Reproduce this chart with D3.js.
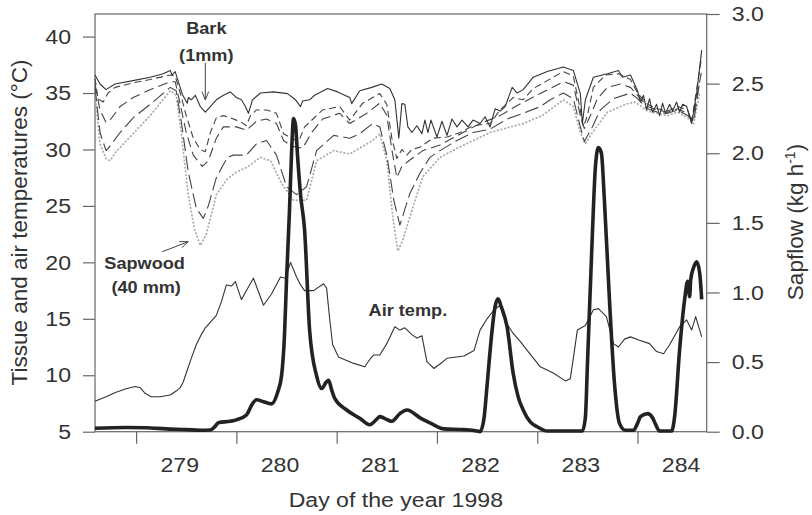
<!DOCTYPE html>
<html>
<head>
<meta charset="utf-8">
<script src="https://cdn.jsdelivr.net/npm/d3@7"></script>
<style>
  html, body { margin: 0; padding: 0; background: #fff; }
  svg { display: block; font-family: "Liberation Sans", Arial, Helvetica, sans-serif; }
</style>
</head>
<body>
<svg id="chart" width="812" height="515"></svg>
<script>
// ---- Data: day of year 1998 vs. temperature (°C) / sap flow (kg h-1) ----
const dayTicks = [279, 280, 281, 282, 283, 284];
const tempTicks = [5, 10, 15, 20, 25, 30, 35, 40];
const flowTicks = [0, 0.5, 1.0, 1.5, 2.0, 2.5, 3.0];

// Bark temperature, 1 mm depth
const bark1mm = [
  [278.59,36.6],[278.64,35.8],[278.70,35.3],[278.79,35.8],[278.97,36.1],[279.14,36.4],[279.27,36.7],
  [279.34,37.0],[279.36,36.6],[279.39,36.9],[279.46,34.9],[279.51,34.1],[279.52,34.6],[279.55,34.4],
  [279.59,34.8],[279.64,33.8],[279.69,33.3],[279.74,33.8],[279.80,34.4],[279.87,34.8],[279.94,35.1],
  [280.00,34.6],[280.05,34.4],[280.09,33.8],[280.12,33.2],[280.16,34.4],[280.24,35.0],[280.37,35.1],
  [280.51,34.95],[280.59,34.4],[280.64,33.8],[280.66,34.3],[280.73,34.4],[280.78,34.8],[280.91,35.4],
  [281.01,35.1],[281.13,34.6],[281.15,34.06],[281.23,35.2],[281.35,35.5],[281.45,35.8],[281.53,35.4],
  [281.58,34.4],[281.62,31.0],[281.65,34.06],[281.68,34.0],[281.71,32.0],[281.75,31.5],[281.80,32.1],
  [281.85,31.4],[281.88,32.6],[281.91,31.5],[281.94,32.6],[282.00,31.1],[282.05,32.5],[282.10,31.25],
  [282.15,32.7],[282.20,32.0],[282.25,32.6],[282.31,32.0],[282.36,32.6],[282.43,32.3],[282.48,32.9],
  [282.53,32.0],[282.58,33.6],[282.63,33.4],[282.68,33.8],[282.75,35.5],[282.80,35.0],[282.86,35.3],
  [282.96,36.4],[283.10,36.9],[283.26,37.3],[283.36,37.0],[283.43,34.95],[283.45,32.3],[283.48,34.4],
  [283.56,36.4],[283.70,36.7],[283.81,37.0],[283.85,36.4],[283.93,36.6],[284.00,35.2],[284.03,34.2],
  [284.06,34.8],[284.09,33.5],[284.12,34.5],[284.15,33.3],[284.19,34.0],[284.22,33.0],[284.25,34.1],
  [284.28,33.2],[284.32,34.0],[284.35,33.4],[284.39,34.2],[284.42,33.3],[284.45,34.0],[284.49,33.8],
  [284.54,32.3],[284.59,35.0],[284.64,38.8]
];

// Intermediate tissue depths (dashed lines)
const tissueA = [
  [278.59,36.3],[278.62,34.5],[278.67,34.2],[278.72,35.0],[278.79,35.5],[278.97,35.9],[279.14,36.2],
  [279.34,36.6],[279.39,36.5],[279.44,35.0],[279.50,33.0],[279.57,31.0],[279.64,30.0],[279.69,29.8],
  [279.74,31.5],[279.80,32.8],[279.87,33.0],[279.94,32.8],[280.00,32.6],[280.05,32.4],[280.10,32.1],
  [280.14,33.0],[280.20,33.5],[280.30,33.5],[280.40,33.2],[280.47,31.4],[280.55,31.0],[280.62,30.7],
  [280.68,32.0],[280.86,33.5],[281.03,33.8],[281.13,32.6],[281.26,34.1],[281.43,34.95],[281.50,34.0],
  [281.55,31.0],[281.60,29.2],[281.65,30.0],[281.70,29.5],[281.75,30.0],[281.83,30.2],[281.96,31.0],
  [282.10,31.1],[282.23,31.5],[282.36,32.1],[282.53,32.3],[282.63,33.5],[282.76,34.6],[282.86,34.4],
  [282.96,35.4],[283.10,36.1],[283.26,36.9],[283.36,36.5],[283.43,33.5],[283.46,32.0],[283.50,33.0],
  [283.56,35.5],[283.68,36.6],[283.81,36.7],[283.93,36.2],[284.00,35.0],[284.10,34.0],[284.20,33.6],
  [284.30,33.4],[284.40,33.8],[284.50,33.5],[284.54,32.5],[284.64,38.2]
];
const tissueB = [
  [278.59,35.8],[278.64,33.5],[278.70,32.4],[278.74,32.6],[278.84,33.8],[278.97,34.6],[279.14,35.3],
  [279.34,36.0],[279.39,36.0],[279.44,34.0],[279.50,31.5],[279.57,29.5],[279.66,28.5],[279.72,29.0],
  [279.80,31.0],[279.87,32.0],[280.00,32.0],[280.10,31.7],[280.20,32.5],[280.30,32.7],[280.40,32.3],
  [280.47,30.8],[280.55,30.3],[280.66,30.1],[280.75,31.5],[280.86,32.7],[281.03,33.2],[281.13,32.3],
  [281.30,33.2],[281.43,34.1],[281.50,33.0],[281.55,30.0],[281.60,27.5],[281.65,28.5],[281.72,29.0],
  [281.86,29.9],[282.03,30.4],[282.26,31.5],[282.43,32.3],[282.63,33.0],[282.80,33.9],[282.93,34.5],
  [283.13,35.4],[283.26,36.0],[283.36,35.7],[283.43,33.0],[283.47,31.85],[283.53,33.0],[283.60,34.5],
  [283.70,35.5],[283.83,35.8],[283.93,35.5],[284.00,34.8],[284.10,33.8],[284.20,33.5],[284.30,33.3],
  [284.40,33.6],[284.50,33.2],[284.55,32.6],[284.64,37.0]
];
const tissueC = [
  [278.59,35.5],[278.64,31.5],[278.70,29.9],[278.74,30.3],[278.84,31.5],[278.97,32.8],[279.14,34.0],
  [279.34,35.5],[279.40,35.2],[279.45,32.5],[279.52,28.0],[279.60,24.8],[279.67,23.9],[279.72,25.0],
  [279.80,27.5],[279.91,29.3],[279.97,29.5],[280.10,29.5],[280.20,30.5],[280.30,30.8],[280.40,29.5],
  [280.50,26.7],[280.60,26.0],[280.70,26.7],[280.80,29.9],[280.97,31.25],[281.13,31.0],[281.23,31.4],
  [281.36,32.3],[281.43,32.0],[281.50,29.5],[281.57,25.5],[281.63,23.3],[281.73,26.1],[281.83,27.9],
  [281.93,29.3],[282.03,29.9],[282.20,30.8],[282.36,31.5],[282.53,31.8],[282.70,32.7],[282.86,33.2],
  [283.03,33.8],[283.13,34.4],[283.26,35.0],[283.36,34.5],[283.43,32.0],[283.47,30.7],[283.55,32.0],
  [283.63,33.5],[283.76,34.5],[283.93,35.0],[284.00,34.5],[284.10,33.6],[284.20,33.3],[284.30,33.2],
  [284.40,33.5],[284.50,33.0],[284.56,32.5],[284.62,36.0]
];

// Sapwood temperature, 40 mm depth
const sapwood40mm = [
  [278.59,35.0],[278.64,30.5],[278.70,29.2],[278.74,29.0],[278.80,29.8],[278.97,31.4],[279.14,33.0],
  [279.34,35.2],[279.40,34.8],[279.45,31.5],[279.52,26.0],[279.58,23.0],[279.64,21.5],[279.70,22.5],
  [279.80,26.0],[279.91,27.4],[280.00,28.0],[280.10,28.4],[280.24,29.3],[280.34,29.0],[280.45,27.0],
  [280.57,25.5],[280.70,25.5],[280.80,29.0],[280.97,29.9],[281.13,29.6],[281.36,30.8],[281.43,31.4],
  [281.50,29.0],[281.56,24.0],[281.61,21.0],[281.66,22.0],[281.76,24.9],[281.86,27.6],[282.03,29.3],
  [282.20,30.1],[282.53,31.5],[282.86,32.3],[283.05,33.0],[283.26,34.4],[283.36,33.8],[283.43,31.5],
  [283.48,30.5],[283.55,31.5],[283.70,33.3],[283.90,34.06],[283.98,34.2],[284.10,33.4],[284.20,33.2],
  [284.30,33.0],[284.40,33.3],[284.50,32.8],[284.56,32.3],[284.62,35.0]
];

// Air temperature
const airTemp = [
  [278.59,7.7],[278.70,8.1],[278.80,8.5],[278.90,8.8],[278.99,9.0],[279.04,8.9],[279.09,8.4],[279.15,8.1],
  [279.24,8.1],[279.34,8.25],[279.40,8.6],[279.44,8.9],[279.47,9.4],[279.50,10.2],[279.55,11.5],[279.60,12.7],
  [279.65,13.6],[279.69,14.2],[279.75,14.8],[279.80,15.3],[279.85,16.5],[279.90,18.0],[279.95,17.9],
  [279.99,18.3],[280.05,16.7],[280.10,17.5],[280.17,18.6],[280.22,17.4],[280.27,16.2],[280.35,17.2],
  [280.44,18.7],[280.49,18.6],[280.54,20.0],[280.60,18.7],[280.64,18.0],[280.68,17.5],[280.77,17.5],
  [280.87,18.1],[280.90,17.7],[280.93,15.0],[280.96,12.7],[281.02,11.6],[281.10,11.3],[281.17,11.05],
  [281.28,10.75],[281.33,11.4],[281.37,11.8],[281.43,11.8],[281.50,12.8],[281.58,14.3],[281.63,14.0],
  [281.68,14.2],[281.75,13.6],[281.80,13.3],[281.85,13.5],[281.90,11.2],[281.97,10.6],[282.03,11.0],
  [282.10,11.5],[282.27,11.7],[282.37,12.2],[282.43,14.0],[282.50,15.0],[282.57,15.8],[282.63,16.2],
  [282.68,14.8],[282.76,13.7],[282.83,13.0],[282.90,12.2],[283.03,10.75],[283.16,10.2],[283.28,9.5],
  [283.33,9.7],[283.36,11.5],[283.40,14.0],[283.48,14.4],[283.56,15.8],[283.61,15.9],[283.69,15.2],
  [283.76,12.8],[283.81,12.5],[283.87,13.2],[283.93,13.4],[284.02,13.1],[284.12,12.8],[284.19,12.1],
  [284.26,11.9],[284.32,12.7],[284.42,14.3],[284.49,14.9],[284.54,14.0],[284.58,15.2],[284.64,13.4]
];

// Sap flow (kg h-1), right axis
const sapflow = [
  [278.59,0.025],[278.90,0.03],[279.10,0.028],[279.30,0.02],[279.50,0.015],[279.64,0.01],[279.74,0.012],
  [279.79,0.04],[279.82,0.065],[279.94,0.075],[280.00,0.085],[280.10,0.12],[280.16,0.2],[280.20,0.23],
  [280.27,0.215],[280.35,0.2],[280.41,0.28],[280.45,0.4],[280.48,0.7],[280.50,1.09],[280.53,1.6],
  [280.55,2.0],[280.57,2.25],[280.59,2.2],[280.61,1.98],[280.64,1.7],[280.68,1.45],[280.73,0.73],
  [280.80,0.40],[280.85,0.31],[280.90,0.36],[280.92,0.37],[280.95,0.3],[280.98,0.24],[281.10,0.156],
  [281.23,0.096],[281.33,0.05],[281.40,0.09],[281.43,0.108],[281.51,0.084],[281.55,0.075],[281.63,0.13],
  [281.70,0.156],[281.84,0.096],[281.94,0.06],[282.07,0.02],[282.27,0.015],[282.40,0.005],[282.43,0.0],
  [282.47,0.1],[282.49,0.25],[282.52,0.5],[282.55,0.73],[282.58,0.9],[282.61,0.955],[282.64,0.9],
  [282.70,0.75],[282.76,0.42],[282.81,0.25],[282.86,0.156],[282.93,0.07],[283.00,0.036],[283.10,0.005],
  [283.45,0.005],[283.48,0.1],[283.50,0.47],[283.55,1.42],[283.58,1.9],[283.61,2.04],[283.64,2.0],
  [283.67,1.66],[283.72,0.95],[283.77,0.35],[283.82,0.06],[283.88,0.01],[283.96,0.01],[284.00,0.06],
  [284.03,0.108],[284.10,0.13],[284.15,0.1],[284.17,0.07],[284.22,0.005],[284.34,0.005],[284.37,0.108],
  [284.42,0.59],[284.47,0.95],[284.50,1.08],[284.52,0.97],[284.53,1.09],[284.56,1.18],[284.59,1.22],
  [284.62,1.14],[284.64,0.95]
];

// ---- Layout ----
const svg = d3.select("#chart");
const plotLeft = 95, plotRight = 706.7, plotTop = 14, plotBottom = 431.7;
const ink = "#333", frameInk = "#666";

const x = d3.scaleLinear().domain([278.59, 284.69]).range([plotLeft, plotRight]);
const yT = d3.scaleLinear().domain([5, 42]).range([plotBottom, plotTop]);
const yF = d3.scaleLinear().domain([0, 3.0]).range([plotBottom, plotTop]);

// Frame
svg.append("rect")
  .attr("x", plotLeft).attr("y", plotTop)
  .attr("width", plotRight - plotLeft).attr("height", plotBottom - plotTop)
  .attr("fill", "none").attr("stroke", frameInk).attr("stroke-width", 1.2);

const stretch = "scale(1.1,1)";

// Left axis (temperatures)
const axL = svg.append("g").attr("transform", `translate(${plotLeft},0)`)
  .call(d3.axisLeft(yT).tickValues(tempTicks).tickSize(12).tickSizeOuter(0).tickFormat(d3.format("d")));
axL.select(".domain").remove();
axL.selectAll("line").attr("stroke", frameInk).attr("stroke-width", 1.2);
axL.selectAll("text").attr("x", -24 / 1.1).attr("transform", stretch)
  .attr("fill", ink).style("font-size", "21px");

// Right axis (sap flow)
const axR = svg.append("g").attr("transform", `translate(${plotRight},0)`)
  .call(d3.axisRight(yF).tickValues(flowTicks).tickSize(13).tickSizeOuter(0).tickFormat(d3.format(".1f")));
axR.select(".domain").remove();
axR.selectAll("line").attr("stroke", frameInk).attr("stroke-width", 1.2);
axR.selectAll("text").attr("x", 25 / 1.1).attr("transform", stretch)
  .attr("fill", ink).style("font-size", "21px");

// Bottom axis: tick marks at day boundaries, labels near mid-day
const axB = svg.append("g").attr("transform", `translate(0,${plotBottom})`)
  .call(d3.axisBottom(x).tickValues(dayTicks).tickSize(12).tickSizeOuter(0).tickFormat(""));
axB.select(".domain").remove();
axB.selectAll("line").attr("stroke", frameInk).attr("stroke-width", 1.2);

const axBL = svg.append("g").attr("transform", `translate(0,${plotBottom})`)
  .call(d3.axisBottom(x).tickValues(dayTicks.map(d => d + 0.43)).tickSize(0).tickPadding(25)
    .tickFormat(d => String(Math.floor(d))));
axBL.select(".domain").remove();
axBL.selectAll("text").attr("transform", stretch).attr("fill", ink).style("font-size", "21px");

// Axis titles
svg.append("text")
  .attr("transform", "translate(26.7,222.5) rotate(-90)")
  .attr("text-anchor", "middle").attr("fill", ink).style("font-size", "22.5px")
  .text("Tissue and air temperatures (°C)");

const rt = svg.append("text")
  .attr("transform", "translate(803,222) rotate(-90)")
  .attr("text-anchor", "middle").attr("fill", ink).style("font-size", "22.5px");
rt.append("tspan").text("Sapflow (kg h");
rt.append("tspan").attr("dy", -8).style("font-size", "14px").text("-1");
rt.append("tspan").attr("dy", 8).text(")");

svg.append("text")
  .attr("transform", "translate(395.8,507) scale(1.1,1)")
  .attr("text-anchor", "middle").attr("fill", ink).style("font-size", "21px")
  .text("Day of the year 1998");

// ---- Series ----
const lineT = d3.line().x(d => x(d[0])).y(d => yT(d[1]));
const lineF = d3.line().x(d => x(d[0])).y(d => yF(d[1])).curve(d3.curveMonotoneX);

const tissueSeries = [
  { data: sapwood40mm, stroke: "#aaa", width: 1.8, dash: "0.5,3.2", cap: "round" },
  { data: tissueC, stroke: "#444", width: 1.1, dash: "14,5", cap: "butt" },
  { data: tissueB, stroke: "#444", width: 1.1, dash: "10,5", cap: "butt" },
  { data: tissueA, stroke: "#444", width: 1.1, dash: "7,4", cap: "butt" },
  { data: bark1mm, stroke: "#333", width: 1.1, dash: null, cap: "butt" }
];

svg.append("g").selectAll("path").data(tissueSeries).join("path")
  .attr("d", s => lineT(s.data))
  .attr("fill", "none")
  .attr("stroke", s => s.stroke)
  .attr("stroke-width", s => s.width)
  .attr("stroke-dasharray", s => s.dash)
  .attr("stroke-linecap", s => s.cap)
  .attr("stroke-linejoin", "round");

svg.append("path")
  .attr("d", lineT(airTemp))
  .attr("fill", "none").attr("stroke", "#333").attr("stroke-width", 1.1)
  .attr("stroke-linejoin", "round");

svg.append("path")
  .attr("d", lineF(sapflow))
  .attr("fill", "none").attr("stroke", "#222").attr("stroke-width", 3.6)
  .attr("stroke-linejoin", "round");

// ---- Annotations (positioned in data units) ----
const labelStyle = sel => sel.attr("text-anchor", "middle").attr("fill", ink)
  .style("font-size", "16.5px").style("font-weight", "bold");

const notes = [
  { day: 279.70, temp: 40.2, text: "Bark" },
  { day: 279.70, temp: 37.86, text: "(1mm)" },
  { day: 279.085, temp: 19.38, text: "Sapwood" },
  { day: 279.10, temp: 17.26, text: "(40 mm)" },
  { day: 281.71, temp: 15.27, text: "Air temp." }
];
svg.append("g").selectAll("text").data(notes).join("text")
  .attr("transform", d => `translate(${x(d.day)},${yT(d.temp)}) scale(1.1,1)`)
  .call(labelStyle)
  .text(d => d.text);

// Arrows: [from, to] in (day, °C)
const arrows = [
  [[279.69, 37.66], [279.69, 34.38]],
  [[279.26, 20.94], [279.52, 21.83]]
];
const ag = svg.append("g").attr("stroke", "#444").attr("stroke-width", 1).attr("fill", "none");
arrows.forEach(([a, b]) => {
  const x1 = x(a[0]), y1 = yT(a[1]), x2 = x(b[0]), y2 = yT(b[1]);
  ag.append("line").attr("x1", x1).attr("y1", y1).attr("x2", x2).attr("y2", y2);
  const ang = Math.atan2(y2 - y1, x2 - x1), L = 9, spread = 0.38;
  const p1 = [x2 - L * Math.cos(ang - spread), y2 - L * Math.sin(ang - spread)];
  const p2 = [x2 - L * Math.cos(ang + spread), y2 - L * Math.sin(ang + spread)];
  ag.append("path").attr("d", `M${p1[0]},${p1[1]}L${x2},${y2}L${p2[0]},${p2[1]}`);
});
</script>
</body>
</html>
